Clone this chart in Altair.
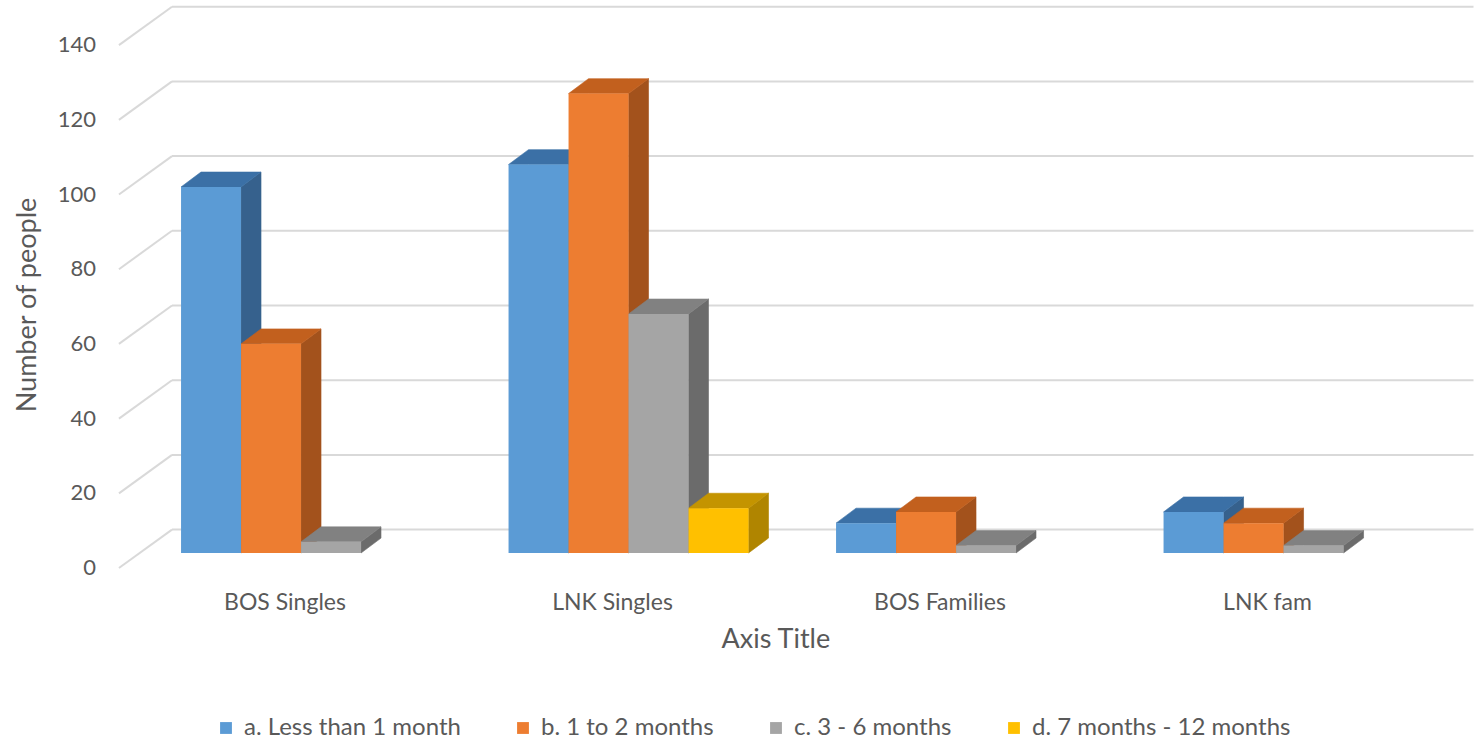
import altair as alt
import pandas as pd

# ---------------------------------------------------------------- data
groups = ["BOS Singles", "LNK Singles", "BOS Families", "LNK fam"]
series = ["a. Less than 1 month", "b. 1 to 2 months",
          "c. 3 - 6 months", "d. 7 months - 12 months"]
less_than_1_month = [98, 104, 8, 11]
one_to_2_months = [56, 123, 11, 8]
three_to_6_months = [3, 64, 2, 2]
seven_to_12_months = [None, 12, None, None]
y_ticks = [0, 20, 40, 60, 80, 100, 120, 140]

# ------------------------------------------------------------- styling
front_colors = ["#5B9BD5", "#ED7D31", "#A5A5A5", "#FFC000"]
top_colors = ["#3B70A6", "#C2601E", "#818181", "#C49400"]
side_colors = ["#36618D", "#A3521C", "#6B6B6B", "#B08500"]
TEXT = "#595959"
GRID = "#D9D9D9"
FONT = "Lato"

# Pseudo-3D geometry: x is measured in category slots, y in data units
# (the bar floor sits at y = 0).
BAR_W = 0.1832                       # one column's width within a slot
SLOT_MARGIN = (1 - 4 * BAR_W) / 2
DEPTH_X, DEPTH_Y = 0.061, 4.0        # receding depth of each column
WALL_X, WALL_Y = 0.106, 6.27         # back wall, relative to the floor
FRONT_X, FRONT_Y = -0.056, -4.02     # front edge of the floor
GRID_END = 4.08
X_DOMAIN = [-0.4192, 4.0815]
Y_DOMAIN = [-50.6, 148.06]
W, H = 1474, 742

xs = alt.Scale(domain=X_DOMAIN, nice=False, zero=False)
ys = alt.Scale(domain=Y_DOMAIN, nice=False, zero=False)

# ------------------------------------------------ column faces from data
values = [less_than_1_month, one_to_2_months, three_to_6_months, seven_to_12_months]
fronts, tops, sides = [], [], []
for j, (name, vals) in enumerate(zip(series, values)):
    for i, (g, v) in enumerate(zip(groups, vals)):
        if v is None:
            continue
        bar = f"{g} | {name}"
        xl = i + SLOT_MARGIN + j * BAR_W
        xr = xl + BAR_W
        fronts.append(dict(bar=bar, group=g, series=name, x=xl, x2=xr, value=v))
        # top face: parallelogram receding up and to the right
        for px, hi, lo in [(xl, v, v), (xl + DEPTH_X, v + DEPTH_Y, v),
                           (xr, v + DEPTH_Y, v), (xr + DEPTH_X, v + DEPTH_Y, v + DEPTH_Y)]:
            tops.append(dict(bar=bar, x=px, hi=hi, lo=lo, color=top_colors[j]))
        # right side face
        for px, hi, lo in [(xr, v, 0), (xr + DEPTH_X, v + DEPTH_Y, DEPTH_Y)]:
            sides.append(dict(bar=bar, x=px, hi=hi, lo=lo, color=side_colors[j]))

fronts = pd.DataFrame(fronts)
tops = pd.DataFrame(tops)
sides = pd.DataFrame(sides)

grid = pd.DataFrame({"tick": y_ticks})
grid["back"] = grid["tick"] + WALL_Y
grid["front"] = grid["tick"] + FRONT_Y
grid["x_front"] = FRONT_X
grid["x_wall"] = WALL_X
grid["x_end"] = GRID_END

cats = pd.DataFrame({"group": groups})
cats["x"] = [i + 0.5 - 0.049 for i in range(len(groups))]
cats["y"] = -13.4

# ------------------------------------------------------------- layers
wall_lines = alt.Chart(grid).mark_rule(color=GRID, strokeWidth=2).encode(
    x=alt.X("x_wall:Q", scale=xs, axis=None),
    x2="x_end:Q",
    y=alt.Y("back:Q", scale=ys, axis=None),
)
floor_lines = alt.Chart(grid).mark_rule(color=GRID, strokeWidth=2).encode(
    x=alt.X("x_front:Q", scale=xs, axis=None),
    x2="x_wall:Q",
    y=alt.Y("front:Q", scale=ys, axis=None),
    y2="back:Q",
)
y_labels = alt.Chart(grid).mark_text(
    align="right", baseline="middle", dx=-23, font=FONT, fontSize=22, color=TEXT
).encode(
    x=alt.X("x_front:Q", scale=xs, axis=None),
    y=alt.Y("front:Q", scale=ys, axis=None),
    text="tick:Q",
)


def face_layer(df):
    return alt.Chart(df).mark_area(orient="vertical", strokeWidth=0.6).encode(
        x=alt.X("x:Q", scale=xs, axis=None),
        y=alt.Y("hi:Q", scale=ys, axis=None),
        y2="lo:Q",
        detail="bar:N",
        color=alt.Color("color:N", scale=None),
        stroke=alt.Stroke("color:N", scale=None),
    )


side_faces = face_layer(sides)
top_faces = face_layer(tops)

front_faces = alt.Chart(fronts).mark_rect().encode(
    x=alt.X("x:Q", scale=xs, axis=None),
    x2="x2:Q",
    y=alt.Y("value:Q", scale=ys, axis=None),
    y2=alt.datum(0),
    color=alt.Color(
        "series:N",
        scale=alt.Scale(domain=series, range=front_colors),
        legend=alt.Legend(
            title=None, orient="none", direction="horizontal",
            legendX=214, legendY=716,
            symbolType="square", symbolSize=140, symbolStrokeWidth=0,
            symbolOpacity=1, labelFont=FONT, labelFontSize=24,
            labelColor=TEXT, labelOffset=6, labelLimit=0, columnPadding=50,
        ),
    ),
    tooltip=["group:N", "series:N", "value:Q"],
)

cat_labels = alt.Chart(cats).mark_text(
    align="center", baseline="middle", font=FONT, fontSize=23, color=TEXT
).encode(
    x=alt.X("x:Q", scale=xs, axis=None),
    y=alt.Y("y:Q", scale=ys, axis=None),
    text="group:N",
)

titles = pd.DataFrame({
    "label": ["Axis Title", "Number of people"],
    "x": [1.95, -0.335],
    "y": [-23.2, 66.4],
})
x_title = alt.Chart(titles.iloc[[0]]).mark_text(
    align="center", baseline="middle", font=FONT, fontSize=27, color=TEXT
).encode(
    x=alt.X("x:Q", scale=xs, axis=None),
    y=alt.Y("y:Q", scale=ys, axis=None),
    text="label:N",
)
y_title = alt.Chart(titles.iloc[[1]]).mark_text(
    align="center", baseline="middle", angle=270, font=FONT, fontSize=27, color=TEXT
).encode(
    x=alt.X("x:Q", scale=xs, axis=None),
    y=alt.Y("y:Q", scale=ys, axis=None),
    text="label:N",
)

chart = alt.layer(
    wall_lines, floor_lines, y_labels,
    side_faces, top_faces, front_faces,
    cat_labels, x_title, y_title,
).properties(
    width=W, height=H,
    autosize=alt.AutoSizeParams(type="none"),
    padding=0,
    background="white",
).configure_view(stroke=None)

chart.save("out.html", embed_options={"renderer": "svg", "actions": False})
